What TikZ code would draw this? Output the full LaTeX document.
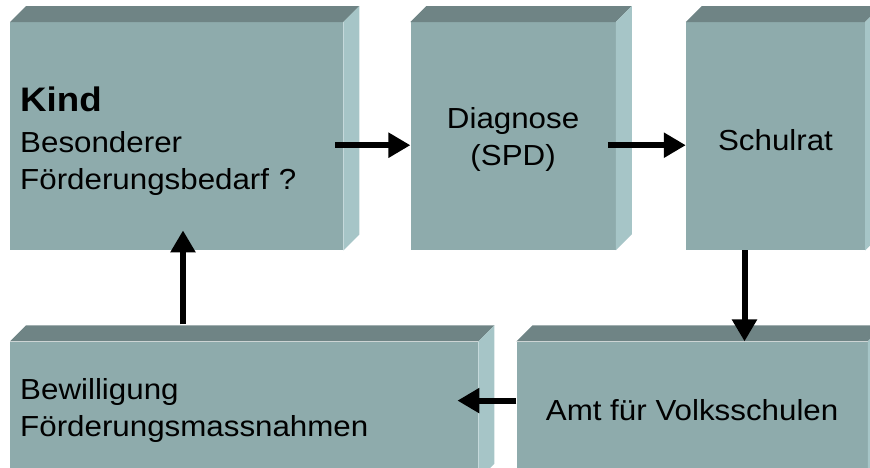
\documentclass[tikz,border=0pt]{standalone}
\usepackage{fontspec}
\setmainfont[FakeStretch=1.08]{Liberation Sans}
\usetikzlibrary{positioning,arrows.meta}
\definecolor{frontc}{HTML}{8EABAC}
\definecolor{topc}{HTML}{6F8485}
\definecolor{sidec}{HTML}{A6C5C7}

\begin{document}
\begin{tikzpicture}
[
x=1pt, y=-1pt,
blocknode/.style={rectangle, fill=frontc, anchor=north west, inner sep=0pt, minimum height=228pt, font=\fontsize{29}{37}\selectfont},
flow/.style={line width=6pt, -{Triangle[length=22pt,width=24pt]}}
]
\clip (0,0) rectangle (870,467);
\node[blocknode, minimum width=333pt, text width=313pt, align=left] (kind) at (10,22)
  {\rule{0pt}{35pt}{\fontsize{34}{41}\selectfont\bfseries Kind}\\[4pt]Besonderer\\Förderungsbedarf ?};
\node[blocknode, minimum width=205pt, align=center] (diag) [right=67pt of kind] {\rule{0pt}{27pt}Diagnose\\(SPD)};
\node[blocknode, minimum width=179pt, align=center] (rat)  [right=70pt of diag] {\rule{0pt}{28pt}Schulrat};
\node[blocknode, minimum width=468pt, minimum height=138pt, text width=448pt, align=left,
      below=91pt of kind.south west, anchor=north west] (bew) {Bewilligung\\Förderungsmassnahmen};
\node[blocknode, minimum width=351pt, minimum height=138pt, align=center] (amt) [right=38pt of bew] {Amt für Volksschulen};
% top and side faces
\foreach \n in {kind,diag,rat,bew,amt}{
  \fill[topc] (\n.north west) -- ++(16,-16) -- ([shift={(16,-16)}]\n.north east) -- (\n.north east) -- cycle;
  \fill[sidec] (\n.north east) -- ++(16,-16) -- ([shift={(16,-16)}]\n.south east) -- (\n.south east) -- cycle;
}
\draw[flow] ([shift={(-8,9)}]kind.east) -- ([shift={(0,9)}]diag.west);
\draw[flow] ([shift={(-8,9)}]diag.east) -- ([shift={(0,9)}]rat.west);
\draw[flow] ([shift={(-31,0)}]rat.south) -- ([shift={(-31,0)}]rat.south |- amt.north);
\draw[flow] ([shift={(0,-10)}]amt.west) -- ([shift={(-21,-10)}]bew.east);
\draw[flow] ([shift={(173,-17)}]bew.north west) -- ([shift={(173,-20)}]kind.south west);
\end{tikzpicture}
\end{document}
